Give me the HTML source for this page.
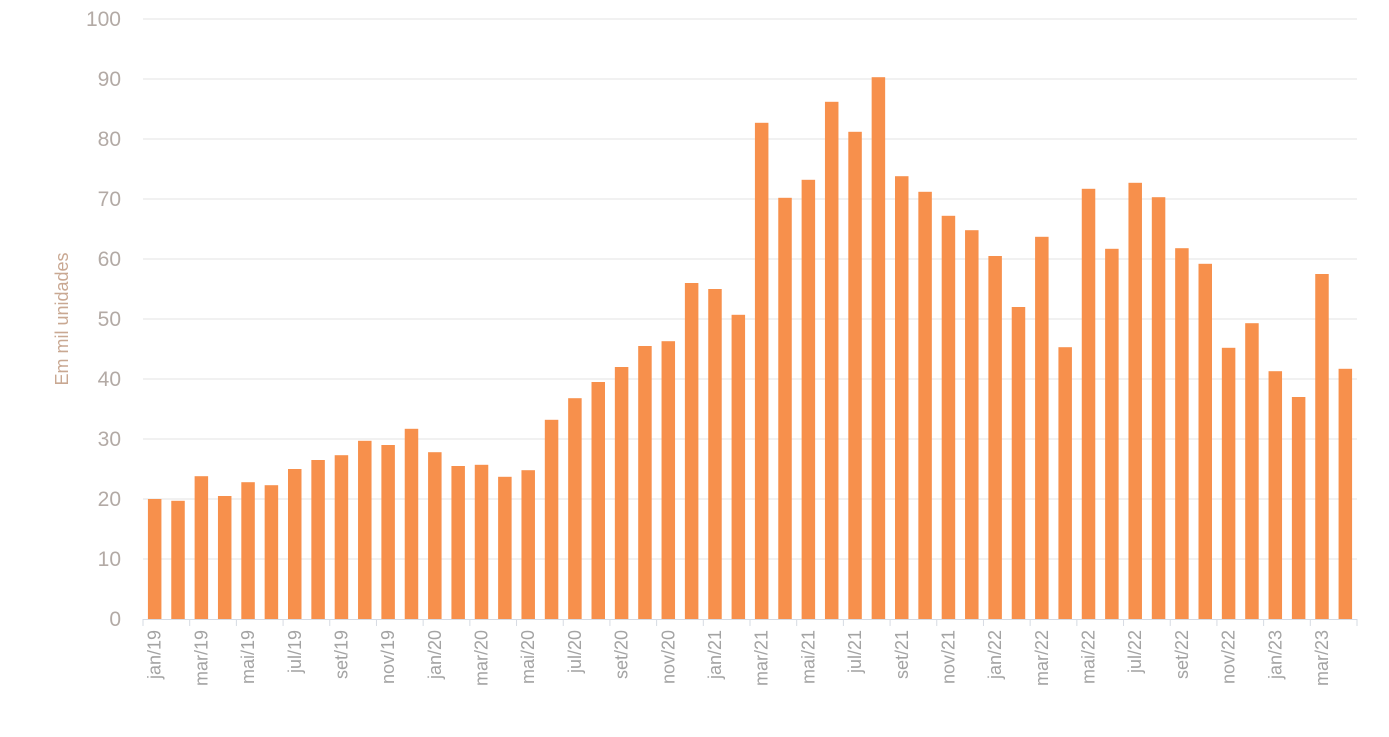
<!DOCTYPE html>
<html><head><meta charset="utf-8"><style>
body{margin:0;background:#fff;}
svg{display:block;font-family:"Liberation Sans",sans-serif;}
</style></head><body>
<svg id="chart" width="1389" height="737" viewBox="0 0 1389 737" xmlns="http://www.w3.org/2000/svg">
<text transform="translate(68,319) rotate(-90)" text-anchor="middle" font-size="18" fill="#c9a892">Em mil unidades</text>
<g id="grid"></g><g id="bars"></g><g id="xaxis"></g>
</svg>
<script>
const categories=["jan/19","fev/19","mar/19","abr/19","mai/19","jun/19","jul/19","ago/19","set/19","out/19","nov/19","dez/19","jan/20","fev/20","mar/20","abr/20","mai/20","jun/20","jul/20","ago/20","set/20","out/20","nov/20","dez/20","jan/21","fev/21","mar/21","abr/21","mai/21","jun/21","jul/21","ago/21","set/21","out/21","nov/21","dez/21","jan/22","fev/22","mar/22","abr/22","mai/22","jun/22","jul/22","ago/22","set/22","out/22","nov/22","dez/22","jan/23","fev/23","mar/23","abr/23"];
const values=[20,19.7,23.8,20.5,22.8,22.3,25,26.5,27.3,29.7,29,31.7,27.8,25.5,25.7,23.7,24.8,33.2,36.8,39.5,42,45.5,46.3,56,55,50.7,82.7,70.2,73.2,86.2,81.2,90.3,73.8,71.2,67.2,64.8,60.5,52,63.7,45.3,71.7,61.7,72.7,70.3,61.8,59.2,45.2,49.3,41.3,37,57.5,41.7];
const yTicks=[0,10,20,30,40,50,60,70,80,90,100];
const NS="http://www.w3.org/2000/svg";
const x0=143,x1=1357,yb=619,yt=19,ymax=100;
const band=(x1-x0)/categories.length;
const y=v=>yb-(v/ymax)*(yb-yt);
function mk(tag,attrs,parent){const e=document.createElementNS(NS,tag);for(const k in attrs)e.setAttribute(k,attrs[k]);parent.appendChild(e);return e;}
const grid=document.getElementById('grid'),bars=document.getElementById('bars'),xa=document.getElementById('xaxis');
yTicks.forEach(t=>{
 if(t>0){const l=mk('line',{x1:x0,x2:x1,y1:y(t),y2:y(t),stroke:'#e3e3e3','stroke-width':1},grid);
 
 }
 const tx=mk('text',{x:121,y:y(t)+7,'text-anchor':'end','font-size':21,fill:'#b3aaa5'},grid);
 tx.textContent=t;
 
 
});
values.forEach((v,i)=>{
 const r=mk('rect',{x:x0+i*band+(band-13.5)/2,y:y(v),width:13.5,height:yb-y(v),fill:'#f7904c'},bars);
 
 
});
const ax=mk('line',{x1:x0,x2:x1,y1:yb+0.5,y2:yb+0.5,stroke:'#d6dbe3','stroke-width':1},xa);


for(let i=0;i<=categories.length;i+=2){
 const tk=mk('line',{x1:x0+i*band,x2:x0+i*band,y1:yb,y2:yb+7,stroke:'#d6dbe3','stroke-width':1},xa);
 
 
}
categories.forEach((c,i)=>{
 if(i%2)return;
 const cx=x0+i*band+band/2+6;
 const t=mk('text',{transform:`translate(${cx},630) rotate(-90)`,'text-anchor':'end','font-size':18,fill:'#a3a3a3'},xa);
 t.textContent=c;
 
 
});
</script>
</body></html>
